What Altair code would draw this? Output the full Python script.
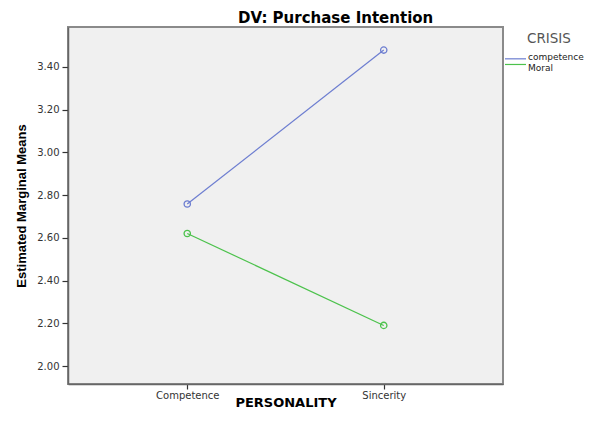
import altair as alt
import pandas as pd

personality = ["Competence", "Sincerity"]
crisis = ["competence", "Moral"]
means_competence = [2.758, 3.478]
means_moral = [2.62, 2.19]
line_colors = ["#6c7dd0", "#4cc24c"]
y_ticks = [2.0, 2.2, 2.4, 2.6, 2.8, 3.0, 3.2, 3.4]
y_domain = [1.916, 3.586]

rows = []
for c, vals in zip(crisis, [means_competence, means_moral]):
    for p, v in zip(personality, vals):
        rows.append({"PERSONALITY": p, "CRISIS": c, "mean": v})
df = pd.DataFrame(rows)
legend_df = pd.DataFrame({"CRISIS": crisis})
legend_title_df = pd.DataFrame({"t": ["CRISIS"]})

color = alt.Color("CRISIS:N", scale=alt.Scale(domain=crisis, range=line_colors), legend=None)

x_enc = alt.X(
    "PERSONALITY:N",
    sort=personality,
    scale=alt.Scale(type="point", padding=0.607),
    axis=alt.Axis(
        title="PERSONALITY", labelAngle=0, tickSize=5, tickColor="#333", tickWidth=1.2,
        labelPadding=1, labelFont="DejaVu Sans", labelFontSize=10, labelColor="#333",
        domainColor="#666", domainWidth=1.5,
        titleFont="DejaVu Sans", titleFontSize=13, titleFontWeight="bold", titleColor="#000",
        titleX=217.5, titleY=22, titleBaseline="alphabetic",
    ),
)

y_axis = alt.Axis(
    title="Estimated Marginal Means", values=y_ticks, format=".2f", grid=False,
    tickSize=6, tickColor="#333", tickWidth=1.2, labelPadding=3,
    labelFont="DejaVu Sans", labelFontSize=10, labelColor="#333",
    domainColor="#666", domainWidth=1.5,
    titleFont="Liberation Sans", titleFontSize=13, titleFontWeight="bold", titleColor="#000",
    titleX=-43, titleY=178.5, titleBaseline="alphabetic",
)
y_scale = alt.Scale(domain=y_domain, nice=False, zero=False)

base = alt.Chart(df)
lines = base.mark_line(strokeWidth=1.2).encode(
    x=x_enc, y=alt.Y("mean:Q", scale=y_scale, axis=y_axis), color=color
)
points = base.mark_point(shape="circle", filled=False, size=40, strokeWidth=1.3, opacity=1).encode(
    x=x_enc, y=alt.Y("mean:Q", scale=y_scale, axis=None), color=color
)

leg_y = alt.Y("CRISIS:N", scale=alt.Scale(domain=crisis, range=[29, 40.3], padding=0), axis=None)
leg_rules = alt.Chart(legend_df).mark_rule(strokeWidth=1.2).encode(
    x=alt.value(437), x2=alt.value(458), y=leg_y, color=color
)
leg_text = alt.Chart(legend_df).mark_text(
    align="left", baseline="alphabetic", dy=3.5, fontSize=9, font="DejaVu Sans", color="#222"
).encode(x=alt.value(460), y=leg_y, text="CRISIS:N")
leg_title = alt.Chart(legend_title_df).mark_text(
    align="left", baseline="alphabetic", fontSize=13.5, font="DejaVu Sans", color="#555"
).encode(x=alt.value(459), y=alt.value(15.7), text="t:N")

chart = alt.layer(lines, points, leg_rules, leg_text, leg_title).resolve_scale(
    y="independent"
).properties(
    width=435,
    height=357,
    title=alt.TitleParams(
        "DV: Purchase Intention", anchor="start", frame="group", dx=170, dy=15, offset=4,
        baseline="alphabetic", fontSize=15, font="DejaVu Sans", fontWeight="bold", color="#000",
    ),
    autosize=alt.AutoSizeParams(type="none"),
    padding={"left": 60, "top": 19, "right": 81, "bottom": 26},
).configure_view(fill="#f0f0f0", stroke="#8a8a8a", strokeWidth=2)

chart.save("out.html", embed_options={"renderer": "svg", "actions": False})
